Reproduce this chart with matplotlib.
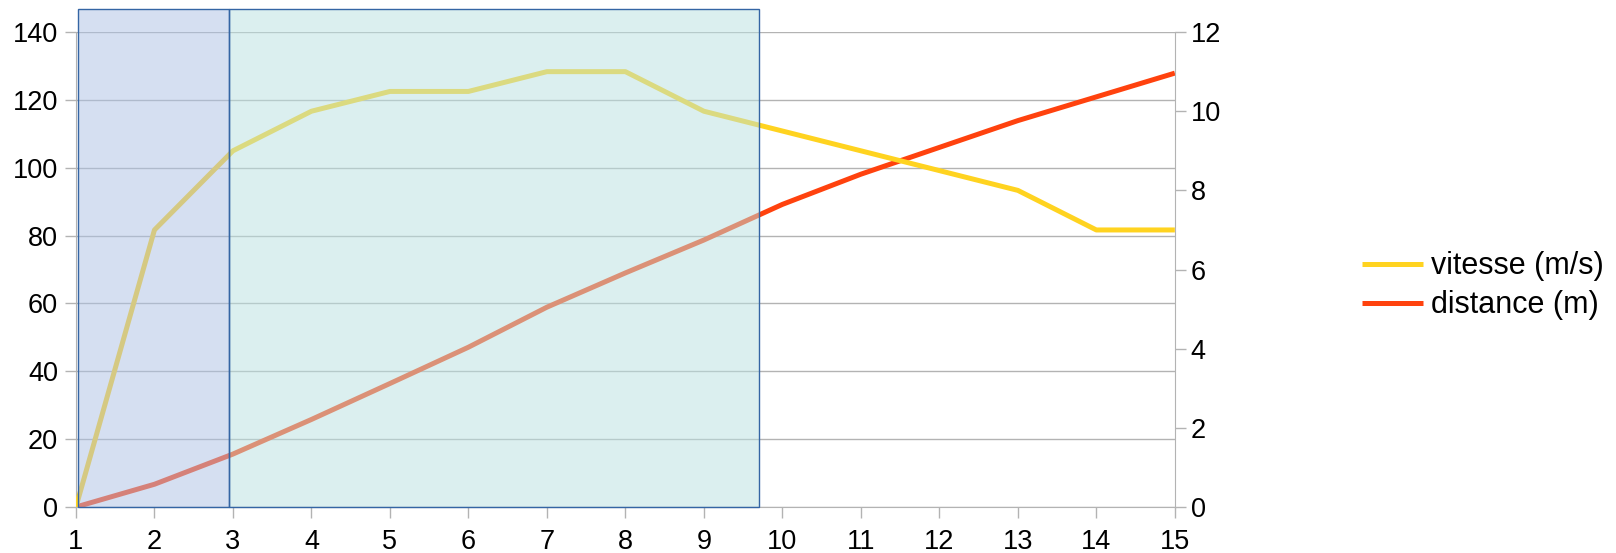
import numpy as np
import matplotlib
matplotlib.use("Agg")
import matplotlib.pyplot as plt
from matplotlib.patches import Rectangle

plt.rcParams['font.family'] = ['Liberation Sans', 'DejaVu Sans']

# temps (s) et mesures
temps = [1, 2, 3, 4, 5, 6, 7, 8, 9, 10, 11, 12, 13, 14, 15]
vitesse = [0, 7, 9, 10, 10.5, 10.5, 11, 11, 10, 9.5, 9, 8.5, 8, 7, 7]
distance = [0, 6.7, 15.6, 25.8, 36.4, 47.1, 58.9, 69, 78.7, 89.2, 98.1, 106, 113.9, 120.9, 127.9]

# phases de la course
phases = [(1.02, 2.955), (2.955, 9.7)]
phase_colors = ['#adc1e5', '#b9e1e1']

grid_col = '#b3b3b3'

fig = plt.figure(figsize=(16.16, 5.53), dpi=100)
ax = fig.add_axes([0.047, 0.0832, 0.68, 0.8588])
ax2 = ax.twinx()

ax.plot(temps, distance, color='#ff420e', lw=3.6, solid_capstyle='butt', label='distance (m)', zorder=3)
ax2.plot(temps, vitesse, color='#ffd320', lw=3.6, solid_capstyle='butt', label='vitesse (m/s)', zorder=3)

for (x0, x1), c in zip(phases, phase_colors):
    r = Rectangle((x0, 0), x1 - x0, 146.7, transform=ax.transData,
                  facecolor=c, alpha=0.5, edgecolor='none', clip_on=False, zorder=5)
    ax2.add_patch(r)
    r = Rectangle((x0, 0), x1 - x0, 146.7, transform=ax.transData,
                  facecolor='none', edgecolor='#3465a4', lw=1.0, clip_on=False, zorder=6)
    ax2.add_patch(r)

ax.set_xlim(1, 15)
ax.set_ylim(0, 140)
ax2.set_ylim(0, 12)
ax.set_xticks(temps)
ax.set_yticks(np.arange(0, 141, 20))
ax2.set_yticks(np.arange(0, 13, 2))

ax.grid(axis='y', color=grid_col, lw=1.0)
ax.set_axisbelow(True)

for a in (ax, ax2):
    for s in a.spines.values():
        s.set_visible(False)
    a.tick_params(colors=grid_col, labelcolor='black', labelsize=19.5, length=8, width=1.0)
ax.spines['bottom'].set_visible(True)
ax.spines['bottom'].set_color(grid_col)
ax.spines['left'].set_visible(True)
ax.spines['left'].set_color(grid_col)
ax2.spines['right'].set_visible(True)
ax2.spines['right'].set_color(grid_col)
ax.tick_params(axis='x', pad=8)
ax.tick_params(axis='y', pad=5)

h1, l1 = ax2.get_legend_handles_labels()
h2, l2 = ax.get_legend_handles_labels()
fig.legend(h1 + h2, l1 + l2, loc='center left', bbox_to_anchor=(0.843, 0.483),
           frameon=False, fontsize=22, handlelength=2.0, handletextpad=0.24,
           labelspacing=0.3, borderaxespad=0, borderpad=0)

fig.savefig('out.png', dpi=100)
